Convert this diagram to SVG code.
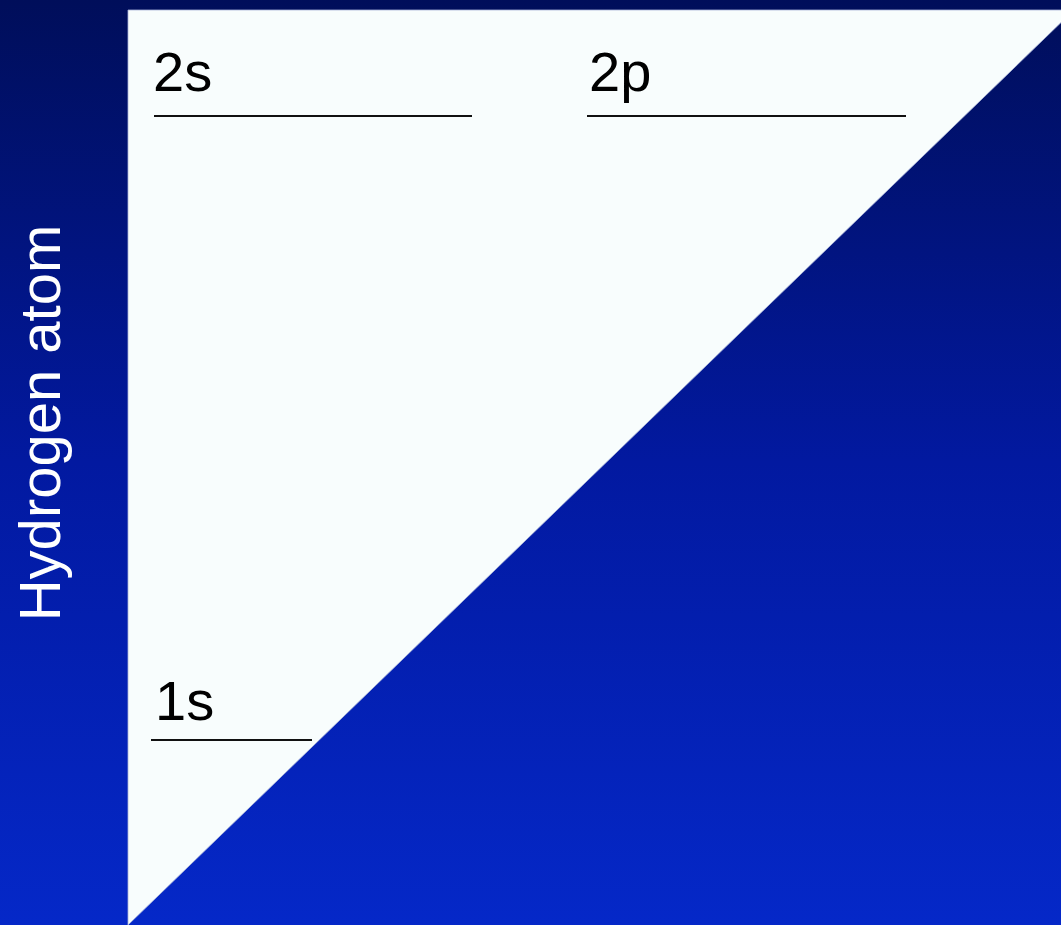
<svg xmlns="http://www.w3.org/2000/svg" width="1061" height="925" viewBox="0 0 1061 925">
<defs>
<linearGradient id="bg" x1="0" y1="0" x2="0" y2="1">
<stop offset="0" stop-color="#000e5a"/>
<stop offset="0.5" stop-color="#0219a0"/>
<stop offset="1" stop-color="#0528c8"/>
</linearGradient>
</defs>
<style>
.lbl{font-family:"Liberation Sans",Arial,sans-serif;font-size:56px;fill:#000}
.lvl{stroke:#111;stroke-width:2.2;fill:none}
</style>
<rect x="0" y="0" width="1061" height="925" fill="url(#bg)"/>
<polygon points="128,10 1074,10 128,925" fill="#f8fdfd" stroke="#aab4d8" stroke-width="0.8"/>
<g id="level-2s">
<line class="lvl" x1="154" y1="116" x2="472" y2="116"/>
<text class="lbl" x="153" y="91">2s</text>
</g>
<g id="level-2p">
<line class="lvl" x1="587" y1="116" x2="906" y2="116"/>
<text class="lbl" x="589" y="91">2p</text>
</g>
<g id="level-1s">
<line class="lvl" x1="151" y1="740" x2="312" y2="740"/>
<text class="lbl" x="155" y="720">1s</text>
</g>
<g id="axis-label">
<text transform="translate(60,423) rotate(-90)" text-anchor="middle" font-family="'Liberation Sans',Arial,sans-serif" font-size="58" fill="#fff">Hydrogen atom</text>
</g>
<g id="connectors"></g>
</svg>
